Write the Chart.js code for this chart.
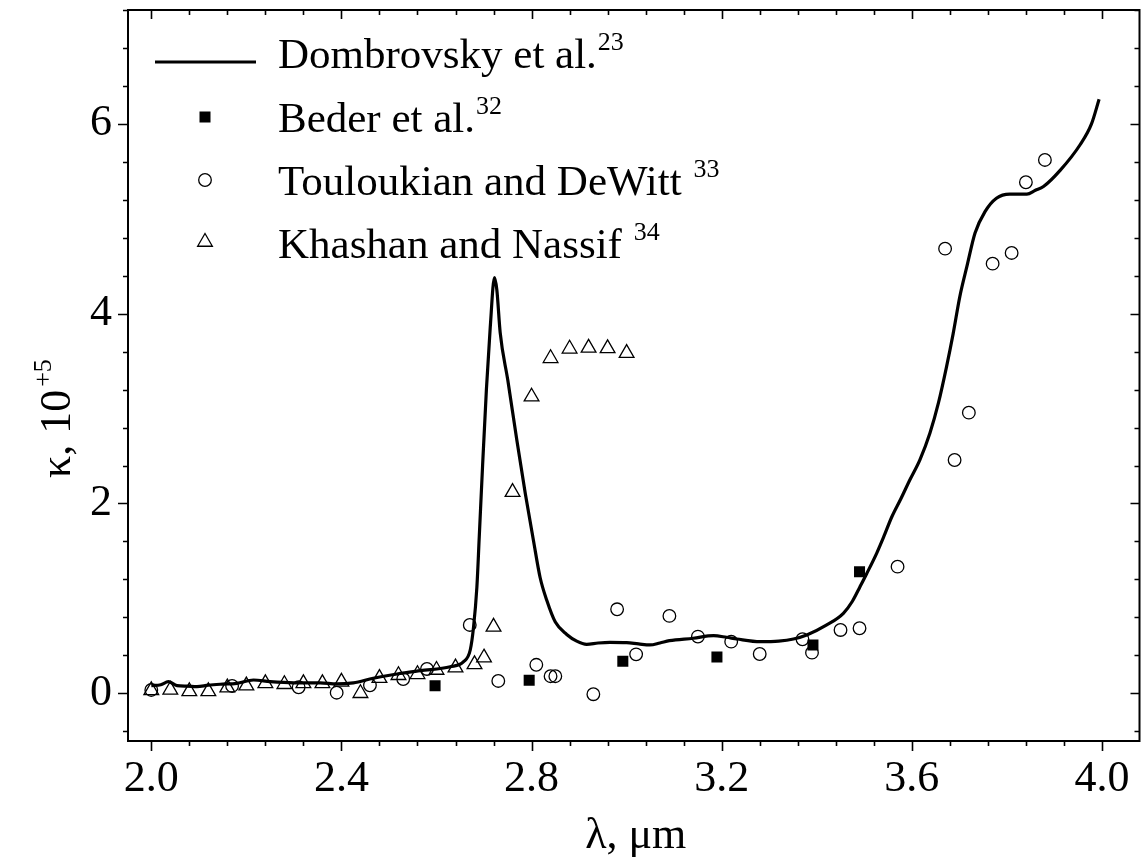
<!DOCTYPE html>
<html>
<head>
<meta charset="utf-8">
<script src="https://cdn.jsdelivr.net/npm/chart.js@4.4.1/dist/chart.umd.min.js"></script>
<style>
  html, body { margin: 0; padding: 0; background: #fff; }
  #c { display: block; }
</style>
</head>
<body>
<canvas id="c" width="1141" height="863"></canvas>
<script>
// Wavelength (µm) and absorption index kappa (×10^-5)
const dombrovskyX = [2.000, 2.020, 2.036, 2.054, 2.075, 2.096, 2.120, 2.145, 2.180, 2.215, 2.250, 2.300,
  2.355, 2.390, 2.425, 2.467, 2.517, 2.566, 2.629, 2.657, 2.671, 2.678, 2.685, 2.690, 2.697, 2.705,
  2.713, 2.722, 2.727, 2.734, 2.750, 2.769, 2.787, 2.804, 2.818, 2.832, 2.850, 2.874, 2.895, 2.916,
  2.940, 2.965, 3.000, 3.025, 3.049, 3.070, 3.090, 3.140, 3.183, 3.210, 3.232, 3.281, 3.320, 3.351,
  3.379, 3.421, 3.456, 3.475, 3.491, 3.505, 3.526, 3.541, 3.558, 3.577, 3.596, 3.617, 3.638, 3.656,
  3.673, 3.687, 3.701, 3.716, 3.733, 3.754, 3.778, 3.806, 3.842, 3.860, 3.877, 3.912, 3.954, 3.978, 3.994];
const dombrovskyY = [0.080, 0.090, 0.122, 0.080, 0.075, 0.070, 0.085, 0.095, 0.105, 0.140, 0.122, 0.110,
  0.110, 0.098, 0.110, 0.158, 0.203, 0.238, 0.280, 0.333, 0.456, 0.700, 1.120, 1.650, 2.400, 3.200,
  3.850, 4.380, 4.250, 3.800, 3.300, 2.670, 2.100, 1.610, 1.220, 0.980, 0.750, 0.620, 0.550, 0.516,
  0.530, 0.537, 0.533, 0.520, 0.509, 0.530, 0.554, 0.580, 0.607, 0.590, 0.572, 0.544, 0.550, 0.572,
  0.614, 0.720, 0.843, 0.970, 1.123, 1.260, 1.475, 1.650, 1.860, 2.050, 2.250, 2.460, 2.740, 3.060,
  3.440, 3.790, 4.180, 4.500, 4.850, 5.075, 5.216, 5.260, 5.260, 5.300, 5.340, 5.510, 5.780, 6.000, 6.260];

const bederX = [2.597, 2.795, 2.992, 3.190, 3.392, 3.490];
const bederY = [0.080, 0.137, 0.337, 0.383, 0.509, 1.280];

const touloukianX = [2.00, 2.17, 2.31, 2.39, 2.46, 2.53, 2.58, 2.67, 2.73, 2.81, 2.84, 2.85, 2.93, 2.98,
  3.02, 3.09, 3.15, 3.22, 3.28, 3.37, 3.39, 3.45, 3.49, 3.57, 3.67, 3.69, 3.72, 3.77, 3.81, 3.84, 3.88];
const touloukianY = [0.035, 0.077, 0.063, 0.006, 0.084, 0.150, 0.256, 0.720, 0.130, 0.300, 0.180, 0.180,
  -0.010, 0.885, 0.410, 0.815, 0.597, 0.544, 0.414, 0.569, 0.428, 0.667, 0.685, 1.334, 4.685, 2.458,
  2.957, 4.527, 4.640, 5.385, 5.620];

const khashanX = [2.00, 2.04, 2.08, 2.12, 2.16, 2.20, 2.24, 2.28, 2.32, 2.36, 2.40, 2.44, 2.48, 2.52,
  2.56, 2.60, 2.64, 2.68, 2.70, 2.72, 2.76, 2.80, 2.84, 2.88, 2.92, 2.96, 3.00];
const khashanY = [0.030, 0.035, 0.020, 0.020, 0.060, 0.080, 0.105, 0.095, 0.105, 0.105, 0.120, 0.000,
  0.160, 0.190, 0.200, 0.245, 0.270, 0.305, 0.375, 0.700, 2.120, 3.125, 3.530, 3.630, 3.640, 3.635, 3.585];

// Axis ticks
const xTicks = [2.0, 2.4, 2.8, 3.2, 3.6, 4.0];
const yTicks = [0, 2, 4, 6];
const xMinorStep = 0.08;
const yMinorStep = 0.4;

// Legend entries: label, superscript reference
const legendLabels = ['Dombrovsky et al.', 'Beder et al.', 'Touloukian and DeWitt ', 'Khashan and Nassif '];
const legendRefs = ['23', '32', '33', '34'];

const FONT = '"Liberation Serif", "Times New Roman", serif';

function pts(xs, ys) { return xs.map((x, i) => ({ x: x, y: ys[i] })); }

function drawMarker(ctx, kind, x, y) {
  ctx.save();
  ctx.strokeStyle = '#000';
  ctx.fillStyle = '#000';
  ctx.lineWidth = 1.3;
  ctx.beginPath();
  if (kind === 'rect') {
    ctx.fillRect(x - 5.5, y - 5.5, 11, 11);
  } else if (kind === 'circle') {
    ctx.arc(x, y, 6.3, 0, Math.PI * 2);
    ctx.stroke();
  } else if (kind === 'triangle') {
    const r = 8.5;
    ctx.moveTo(x, y - r);
    ctx.lineTo(x + r * Math.sin(2 * Math.PI / 3), y + r / 2);
    ctx.lineTo(x - r * Math.sin(2 * Math.PI / 3), y + r / 2);
    ctx.closePath();
    ctx.stroke();
  }
  ctx.restore();
}

const framePlugin = {
  id: 'frame',
  afterDraw(chart) {
    const ctx = chart.ctx;
    const a = chart.chartArea;
    const xs = chart.scales.x, ys = chart.scales.y;
    ctx.save();
    ctx.strokeStyle = '#000';
    ctx.lineWidth = 2;
    ctx.strokeRect(a.left, a.top, a.right - a.left, a.bottom - a.top);

    // tick marks: outward on bottom/left, inward on top/right
    ctx.lineWidth = 1.6;
    ctx.beginPath();
    const xMin = xs.min, xMax = xs.max;
    for (let k = Math.ceil(xMin / xMinorStep - 1e-6); k * xMinorStep <= xMax + 1e-9; k++) {
      const v = k * xMinorStep;
      const major = xTicks.some(t => Math.abs(t - v) < 1e-6);
      const px = Math.round(xs.getPixelForValue(v)) + 0.5;
      ctx.moveTo(px, a.bottom); ctx.lineTo(px, a.bottom + (major ? 10 : 5));
      ctx.moveTo(px, a.top); ctx.lineTo(px, a.top + (major ? 9 : 5));
    }
    const yMin = ys.min, yMax = ys.max;
    for (let k = Math.ceil(yMin / yMinorStep - 1e-6); k * yMinorStep <= yMax + 1e-9; k++) {
      const v = k * yMinorStep;
      const major = yTicks.some(t => Math.abs(t - v) < 1e-6);
      const py = Math.round(ys.getPixelForValue(v)) + 0.5;
      ctx.moveTo(a.left, py); ctx.lineTo(a.left - (major ? 10 : 5), py);
      ctx.moveTo(a.right, py); ctx.lineTo(a.right - (major ? 9 : 5), py);
    }
    ctx.stroke();

    // axis titles
    ctx.fillStyle = '#000';
    ctx.textBaseline = 'alphabetic';
    ctx.font = '44px ' + FONT;
    ctx.textAlign = 'center';
    ctx.fillText('λ, μm', (a.left + a.right) / 2 + 2, 848);

    ctx.save();
    ctx.translate(70, 478);
    ctx.rotate(-Math.PI / 2);
    ctx.textAlign = 'left';
    ctx.font = '44px ' + FONT;
    const main = 'κ, 10';
    ctx.fillText(main, 0, 0);
    const w = ctx.measureText(main).width;
    ctx.font = '26px ' + FONT;
    ctx.fillText('+5', w + 3, -19);
    ctx.restore();

    // legend
    ctx.lineWidth = 3;
    ctx.beginPath();
    ctx.moveTo(155, 62); ctx.lineTo(256, 62);
    ctx.stroke();
    drawMarker(ctx, 'rect', 205, 117);
    drawMarker(ctx, 'circle', 205, 180);
    drawMarker(ctx, 'triangle', 205, 242);
    const baselines = [68, 132, 195, 258];
    ctx.textAlign = 'left';
    legendLabels.forEach((lab, i) => {
      ctx.font = '43px ' + FONT;
      ctx.fillText(lab, 278, baselines[i]);
      const lw = ctx.measureText(lab).width;
      ctx.font = '26px ' + FONT;
      ctx.fillText(legendRefs[i], 278 + lw + 1, baselines[i] - 18);
    });
    ctx.restore();
  }
};

new Chart(document.getElementById('c'), {
  type: 'scatter',
  data: {
    datasets: [
      {
        label: legendLabels[0],
        data: pts(dombrovskyX, dombrovskyY),
        showLine: true,
        borderColor: '#000',
        borderWidth: 3.2,
        pointRadius: 0,
        cubicInterpolationMode: 'monotone',
        fill: false,
        order: 4
      },
      {
        label: legendLabels[1],
        data: pts(bederX, bederY),
        pointStyle: 'rect',
        pointRadius: 7.8,
        backgroundColor: '#000',
        borderColor: '#000',
        borderWidth: 0,
        order: 3
      },
      {
        label: legendLabels[2],
        data: pts(touloukianX, touloukianY),
        pointStyle: 'circle',
        pointRadius: 6.3,
        backgroundColor: 'rgba(0,0,0,0)',
        borderColor: '#000',
        borderWidth: 1.3,
        order: 2
      },
      {
        label: legendLabels[3],
        data: pts(khashanX, khashanY),
        pointStyle: 'triangle',
        pointRadius: 8.5,
        backgroundColor: 'rgba(0,0,0,0)',
        borderColor: '#000',
        borderWidth: 1.3,
        order: 1
      }
    ]
  },
  options: {
    responsive: false,
    animation: false,
    devicePixelRatio: 1,
    layout: { autoPadding: false, padding: { top: 10, right: 1.5, left: 0, bottom: 0 } },
    plugins: { legend: { display: false }, tooltip: { enabled: false } },
    scales: {
      x: {
        type: 'linear',
        position: 'bottom',
        min: 1.951,
        max: 4.079,
        grid: { display: false, drawTicks: false },
        border: { display: false },
        afterBuildTicks(scale) { scale.ticks = xTicks.map(v => ({ value: v })); },
        afterFit(scale) {
          scale.height = 122;
          scale.paddingLeft = 0; scale.paddingRight = 0;
        },
        ticks: {
          color: '#000',
          font: { family: FONT, size: 44 },
          padding: 12,
          maxRotation: 0,
          callback: v => v.toFixed(1)
        }
      },
      y: {
        type: 'linear',
        position: 'left',
        min: -0.503,
        max: 7.2,
        grid: { display: false, drawTicks: false },
        border: { display: false },
        afterBuildTicks(scale) { scale.ticks = yTicks.map(v => ({ value: v })); },
        afterFit(scale) {
          scale.width = 128;
          scale.paddingTop = 0; scale.paddingBottom = 0;
        },
        ticks: {
          color: '#000',
          font: { family: FONT, size: 44 },
          padding: 16,
          callback: v => String(v)
        }
      }
    }
  },
  plugins: [framePlugin]
});
</script>
</body>
</html>
